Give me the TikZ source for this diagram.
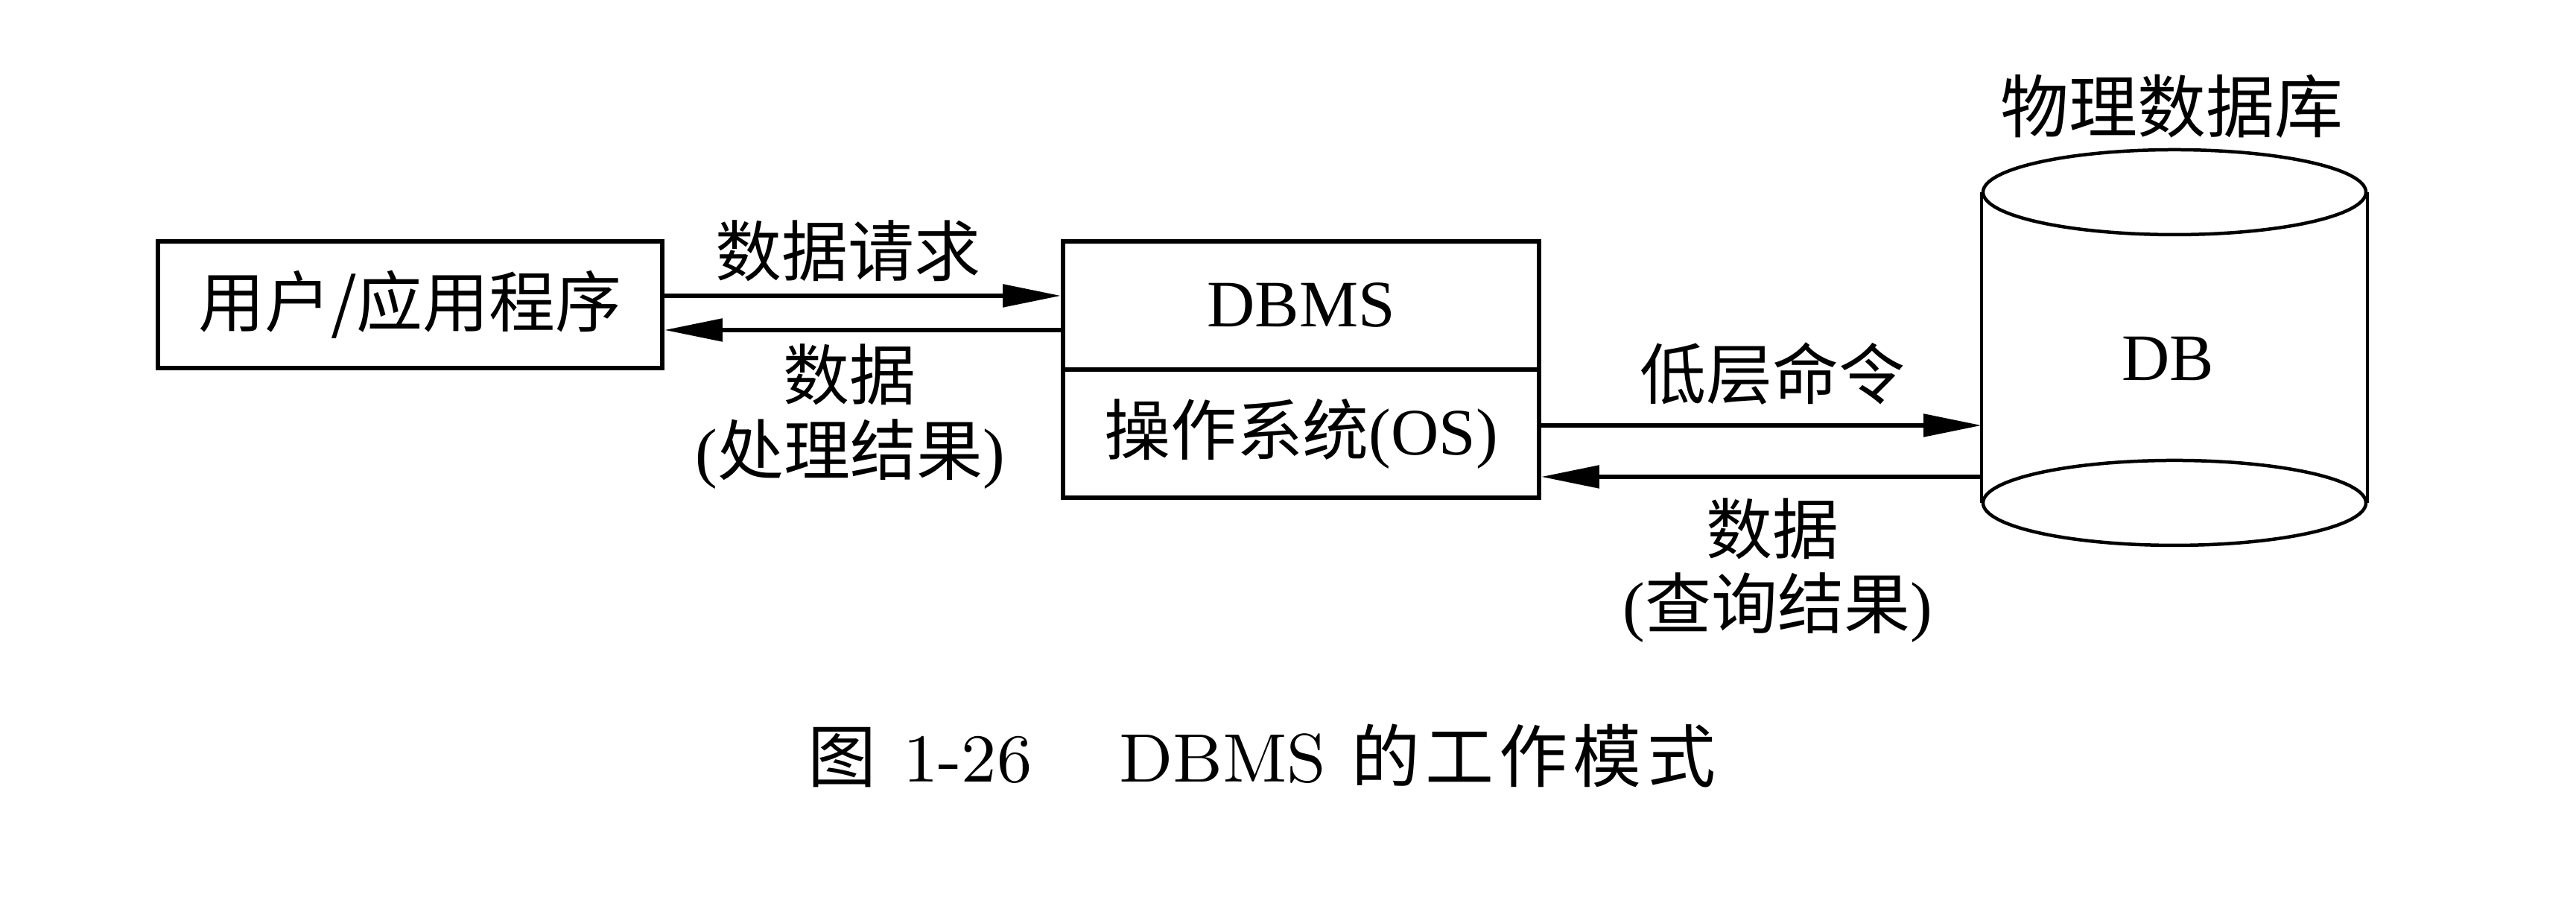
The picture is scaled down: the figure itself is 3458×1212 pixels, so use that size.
\documentclass[tikz,border=0pt]{standalone}
\usepackage{fontspec}
\newfontfamily\tms{Liberation Serif}
\newfontfamily\cjk{Noto Sans CJK SC}
\newfontfamily\cjksp[LetterSpace=8]{Noto Sans CJK SC}
\usetikzlibrary{arrows.meta}
\begin{document}
\begin{tikzpicture}[x=0.1pt,y=-0.1pt,
  every node/.style={inner sep=0pt},
  zh/.style={font={\fontsize{8.9pt}{10.7pt}\selectfont\cjk}},
  en/.style={font={\fontsize{8.9pt}{10.7pt}\selectfont\tms}},
  box/.style={draw,line width=0.6pt},
  arr/.style={line width=0.55pt,-{Triangle[length=7.8pt,width=3pt]}},
  cyl/.style={line width=0.45pt},
  captxt/.style={anchor=base west,font={\fontsize{9.2pt}{11pt}\selectfont}}]
\useasboundingbox (0,0) rectangle (3458,1212);
\fill[white] (0,0) rectangle (3458,1212);
% boxes
\node[box,zh,minimum width=67.7pt,minimum height=17pt] (user) at (550.5,409) {用户/应用程序};
\node[box,en,minimum width=63.9pt,minimum height=17.2pt] (dbms) at (1746.5,410) {DBMS};
\node[box,zh,minimum width=63.9pt,minimum height=17.2pt] (os) at (1746.5,582) {操作系统{\tms(OS)}};
% cylinder
\node[minimum width=51.4pt,minimum height=41.3pt] (db) at (2919,466.5) {};
\draw[cyl] (db.north west) -- (db.south west) (db.north east) -- (db.south east);
\draw[cyl] (db.north) ellipse [x radius=25.7pt, y radius=5.7pt];
\draw[cyl] (db.south) ellipse [x radius=25.7pt, y radius=5.7pt];
\node[en] (dbt) at (2910,482) {DB};
\node[zh,font={\fontsize{9.2pt}{11pt}\selectfont\cjk}] (phys) at (2915,143) {物理数据库};
% arrows
\draw[arr] (user.east |- 0,397) -- (dbms.west |- 0,397);
\draw[arr] (dbms.west |- 0,443) -- (user.east |- 0,443);
\draw[arr] (os.east |- 0,571) -- (db.west |- 0,571);
\draw[arr] (db.west |- 0,640) -- (os.east |- 0,640);
% labels
\node[zh] (l1) at (1138,337) {数据请求};
\node[zh] (l2) at (1140,503) {数据};
\node[zh] (l3) at (1141,610) {{\tms(}处理结果{\tms)}};
\node[zh] (l4) at (2379,502) {低层命令};
\node[zh] (l5) at (2379,710) {数据};
\node[zh] (l6) at (2386,816) {{\tms(}查询结果{\tms)}};
% caption
\node[captxt] (c1) at (1082,1050) {\cjk 图};
\node[captxt] (c2) at (1210,1050) {1-26};
\node[captxt] (c3) at (1500,1050) {DBMS};
\node[captxt] (c4) at (1812,1050) {\cjksp 的工作模式};
\end{tikzpicture}
\end{document}
